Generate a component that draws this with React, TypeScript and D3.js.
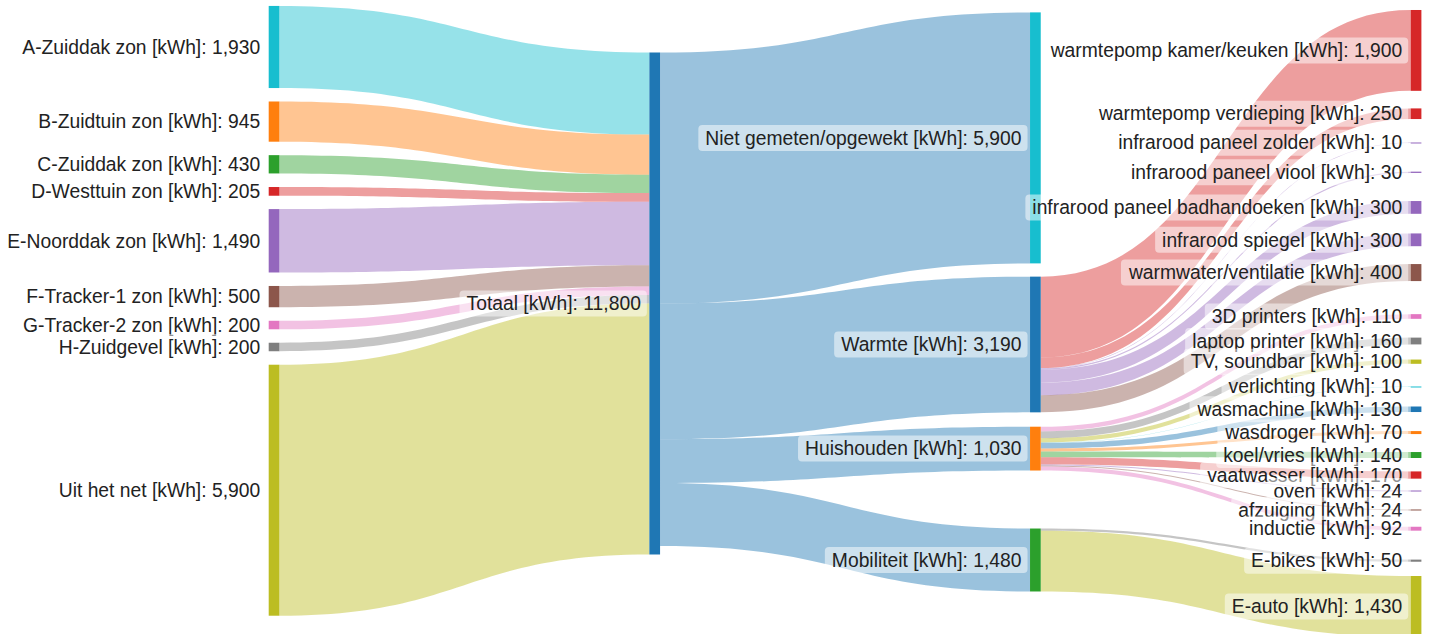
import { useEffect, useRef } from "react";
import * as d3 from "d3";

// --- data (kWh per year) ---
const sources = [
  "A-Zuiddak zon",
  "B-Zuidtuin zon",
  "C-Zuiddak zon",
  "D-Westtuin zon",
  "E-Noorddak zon",
  "F-Tracker-1 zon",
  "G-Tracker-2 zon",
  "H-Zuidgevel",
  "Uit het net",
];
const sourceValues = [1930, 945, 430, 205, 1490, 500, 200, 200, 5900];

const hub = "Totaal";

const groups = ["Niet gemeten/opgewekt", "Warmte", "Huishouden", "Mobiliteit"];
const groupValues = [5900, 3190, 1030, 1480];

const warmteUses = [
  "warmtepomp kamer/keuken",
  "warmtepomp verdieping",
  "infrarood paneel zolder",
  "infrarood paneel viool",
  "infrarood paneel badhandoeken",
  "infrarood spiegel",
  "warmwater/ventilatie",
];
const warmteValues = [1900, 250, 10, 30, 300, 300, 400];

const huishoudenUses = [
  "3D printers",
  "laptop printer",
  "TV, soundbar",
  "verlichting",
  "wasmachine",
  "wasdroger",
  "koel/vries",
  "vaatwasser",
  "oven",
  "afzuiging",
  "inductie",
];
const huishoudenValues = [110, 160, 100, 10, 130, 70, 140, 170, 24, 24, 92];

const mobiliteitUses = ["E-bikes", "E-auto"];
const mobiliteitValues = [50, 1430];

// node placement as given in the source chart (center, fraction of plot height)
const placement: Record<string, number> = {
  "A-Zuiddak zon": 0.0672,
  "B-Zuidtuin zon": 0.1895,
  "C-Zuiddak zon": 0.2595,
  "D-Westtuin zon": 0.3039,
  "E-Noorddak zon": 0.3849,
  "F-Tracker-1 zon": 0.4764,
  "G-Tracker-2 zon": 0.523,
  "H-Zuidgevel": 0.559,
  "Uit het net": 0.7938,
  Totaal: 0.4877,
  "Niet gemeten/opgewekt": 0.2162,
  Warmte: 0.5549,
  Huishouden: 0.7256,
  Mobiliteit: 0.9082,
  "warmtepomp kamer/keuken": 0.0728,
  "warmtepomp verdieping": 0.1766,
  "infrarood paneel zolder": 0.2241,
  "infrarood paneel viool": 0.2726,
  "infrarood paneel badhandoeken": 0.3302,
  "infrarood spiegel": 0.3833,
  "warmwater/ventilatie": 0.437,
  "3D printers": 0.509,
  "laptop printer": 0.5492,
  "TV, soundbar": 0.5831,
  verlichting: 0.6241,
  wasmachine: 0.6611,
  wasdroger: 0.6993,
  "koel/vries": 0.7361,
  vaatwasser: 0.7689,
  oven: 0.7951,
  afzuiging: 0.8262,
  inductie: 0.8569,
  "E-bikes": 0.9093,
  "E-auto": 0.9843,
};

// palette index (category10) per node
const c10 = d3.schemeCategory10;
const colorIndex: Record<string, number> = {
  "A-Zuiddak zon": 9,
  "B-Zuidtuin zon": 1,
  "C-Zuiddak zon": 2,
  "D-Westtuin zon": 3,
  "E-Noorddak zon": 4,
  "F-Tracker-1 zon": 5,
  "G-Tracker-2 zon": 6,
  "H-Zuidgevel": 7,
  "Uit het net": 8,
  Totaal: 0,
  "Niet gemeten/opgewekt": 9,
  Warmte: 0,
  Huishouden: 1,
  Mobiliteit: 2,
  "warmtepomp kamer/keuken": 3,
  "warmtepomp verdieping": 3,
  "infrarood paneel zolder": 4,
  "infrarood paneel viool": 4,
  "infrarood paneel badhandoeken": 4,
  "infrarood spiegel": 4,
  "warmwater/ventilatie": 5,
  "3D printers": 6,
  "laptop printer": 7,
  "TV, soundbar": 8,
  verlichting: 9,
  wasmachine: 0,
  wasdroger: 1,
  "koel/vries": 2,
  vaatwasser: 3,
  oven: 4,
  afzuiging: 5,
  inductie: 6,
  "E-bikes": 7,
  "E-auto": 8,
};

type SNode = {
  name: string;
  col: number;
  value: number;
  x0: number;
  x1: number;
  y0: number;
  y1: number;
  out: SLink[];
  inc: SLink[];
};
type SLink = { source: SNode; target: SNode; value: number; width: number; sy: number; ty: number };

const W = 1432;
const H = 634;

export default function App() {
  const svgRef = useRef<SVGSVGElement>(null);

  useEffect(() => {
    const svg = d3.select(svgRef.current);
    svg.selectAll("*").remove();

    const top = 6;
    const bottom = 616;
    const nodeWidth = 10.7;
    const nodePadding = 13.5;
    const x = d3.scaleLinear().domain([0, 3]).range([268.7, 1410.7]);
    const y = d3.scaleLinear().domain([0, 1]).range([top, bottom]);
    const fmt = d3.format(",");

    // --- build graph ---
    const nodes: SNode[] = [];
    const byName = new Map<string, SNode>();
    const addNode = (name: string, col: number) => {
      const n: SNode = { name, col, value: 0, x0: 0, x1: 0, y0: 0, y1: 0, out: [], inc: [] };
      nodes.push(n);
      byName.set(name, n);
    };
    sources.forEach(s => addNode(s, 0));
    addNode(hub, 1);
    groups.forEach(g => addNode(g, 2));
    [...warmteUses, ...huishoudenUses, ...mobiliteitUses].forEach(u => addNode(u, 3));

    const links: SLink[] = [];
    const addLink = (s: string, t: string, v: number) => {
      const l: SLink = { source: byName.get(s)!, target: byName.get(t)!, value: v, width: 0, sy: 0, ty: 0 };
      l.source.out.push(l);
      l.target.inc.push(l);
      links.push(l);
    };
    sources.forEach((s, i) => addLink(s, hub, sourceValues[i]));
    groups.forEach((g, i) => addLink(hub, g, groupValues[i]));
    warmteUses.forEach((u, i) => addLink("Warmte", u, warmteValues[i]));
    huishoudenUses.forEach((u, i) => addLink("Huishouden", u, huishoudenValues[i]));
    mobiliteitUses.forEach((u, i) => addLink("Mobiliteit", u, mobiliteitValues[i]));

    nodes.forEach(n => {
      n.value = Math.max(d3.sum(n.inc, l => l.value), d3.sum(n.out, l => l.value));
    });

    // --- layout ---
    const columns = d3.groups(nodes, n => n.col).sort((a, b) => a[0] - b[0]);
    const ky = d3.min(columns, ([, col]) =>
      (bottom - top - (col.length - 1) * nodePadding) / d3.sum(col, n => n.value)
    )!;

    nodes.forEach(n => {
      const h = n.value * ky;
      const cy = y(placement[n.name]);
      n.x0 = x(n.col);
      n.x1 = n.x0 + nodeWidth;
      n.y0 = cy - h / 2;
      n.y1 = cy + h / 2;
    });
    // keep nodes apart within a column
    columns.forEach(([, col]) => {
      col.sort((a, b) => a.y0 - b.y0);
      let yy = -Infinity;
      col.forEach(n => {
        const dy = yy - n.y0;
        if (dy > 0) {
          n.y0 += dy;
          n.y1 += dy;
        }
        yy = n.y1 + 10;
      });
    });

    links.forEach(l => (l.width = l.value * ky));
    nodes.forEach(n => {
      n.out.sort((a, b) => a.target.y0 - b.target.y0);
      n.inc.sort((a, b) => a.source.y0 - b.source.y0);
      let sy = n.y0;
      n.out.forEach(l => {
        l.sy = sy + l.width / 2;
        sy += l.width;
      });
      let ty = n.y0;
      n.inc.forEach(l => {
        l.ty = ty + l.width / 2;
        ty += l.width;
      });
    });

    const color = (n: SNode) => c10[colorIndex[n.name]];
    const linkColor = (l: SLink) =>
      l.source.name === hub ? color(l.source) : l.target.name === hub ? color(l.source) : color(l.target);

    const linkPath = (l: SLink) => {
      const x0 = l.source.x1;
      const x1 = l.target.x0;
      const xm = d3.interpolateNumber(x0, x1)(0.5);
      const s0 = l.sy - l.width / 2;
      const s1 = l.sy + l.width / 2;
      const t0 = l.ty - l.width / 2;
      const t1 = l.ty + l.width / 2;
      const p = d3.path();
      p.moveTo(x0, s0);
      p.bezierCurveTo(xm, s0, xm, t0, x1, t0);
      p.lineTo(x1, t1);
      p.bezierCurveTo(xm, t1, xm, s1, x0, s1);
      p.closePath();
      return p.toString();
    };

    // links
    svg
      .append("g")
      .selectAll("path")
      .data(links)
      .enter()
      .append("path")
      .attr("d", linkPath)
      .attr("fill", linkColor)
      .attr("fill-opacity", 0.45);

    // nodes
    svg
      .append("g")
      .selectAll("rect")
      .data(nodes)
      .enter()
      .append("rect")
      .attr("x", d => d.x0)
      .attr("y", d => d.y0)
      .attr("width", nodeWidth)
      .attr("height", d => Math.max(1, d.y1 - d.y0))
      .attr("fill", color);

    // labels with translucent box
    const labels = svg
      .append("g")
      .attr("font-family", "'Liberation Sans', Arial, sans-serif")
      .attr("font-size", 19.3)
      .selectAll("g")
      .data(nodes)
      .enter()
      .append("g");

    const boxes = labels
      .append("rect")
      .attr("rx", 4)
      .attr("ry", 4)
      .attr("fill", "rgba(255,255,255,0.5)");

    const texts = labels
      .append("text")
      .attr("x", d => d.x0 - 8.5)
      .attr("y", d => (d.y0 + d.y1) / 2)
      .attr("dy", "0.35em")
      .attr("text-anchor", "end")
      .attr("fill", "#222")
      .text(d => `${d.name} [kWh]: ${fmt(d.value)}`);

    texts.each(function (_, i) {
      const bb = (this as SVGTextElement).getBBox();
      const n = nodes[i];
      d3.select(boxes.nodes()[i])
        .attr("x", bb.x - 7)
        .attr("y", (n.y0 + n.y1) / 2 - 13)
        .attr("width", bb.width + 13)
        .attr("height", 26);
    });
  }, []);

  return (
    <>
      <style>{`body{margin:0}`}</style>
      <svg ref={svgRef} width={W} height={H} viewBox={`0 0 ${W} ${H}`} style={{ display: "block" }} />
    </>
  );
}
